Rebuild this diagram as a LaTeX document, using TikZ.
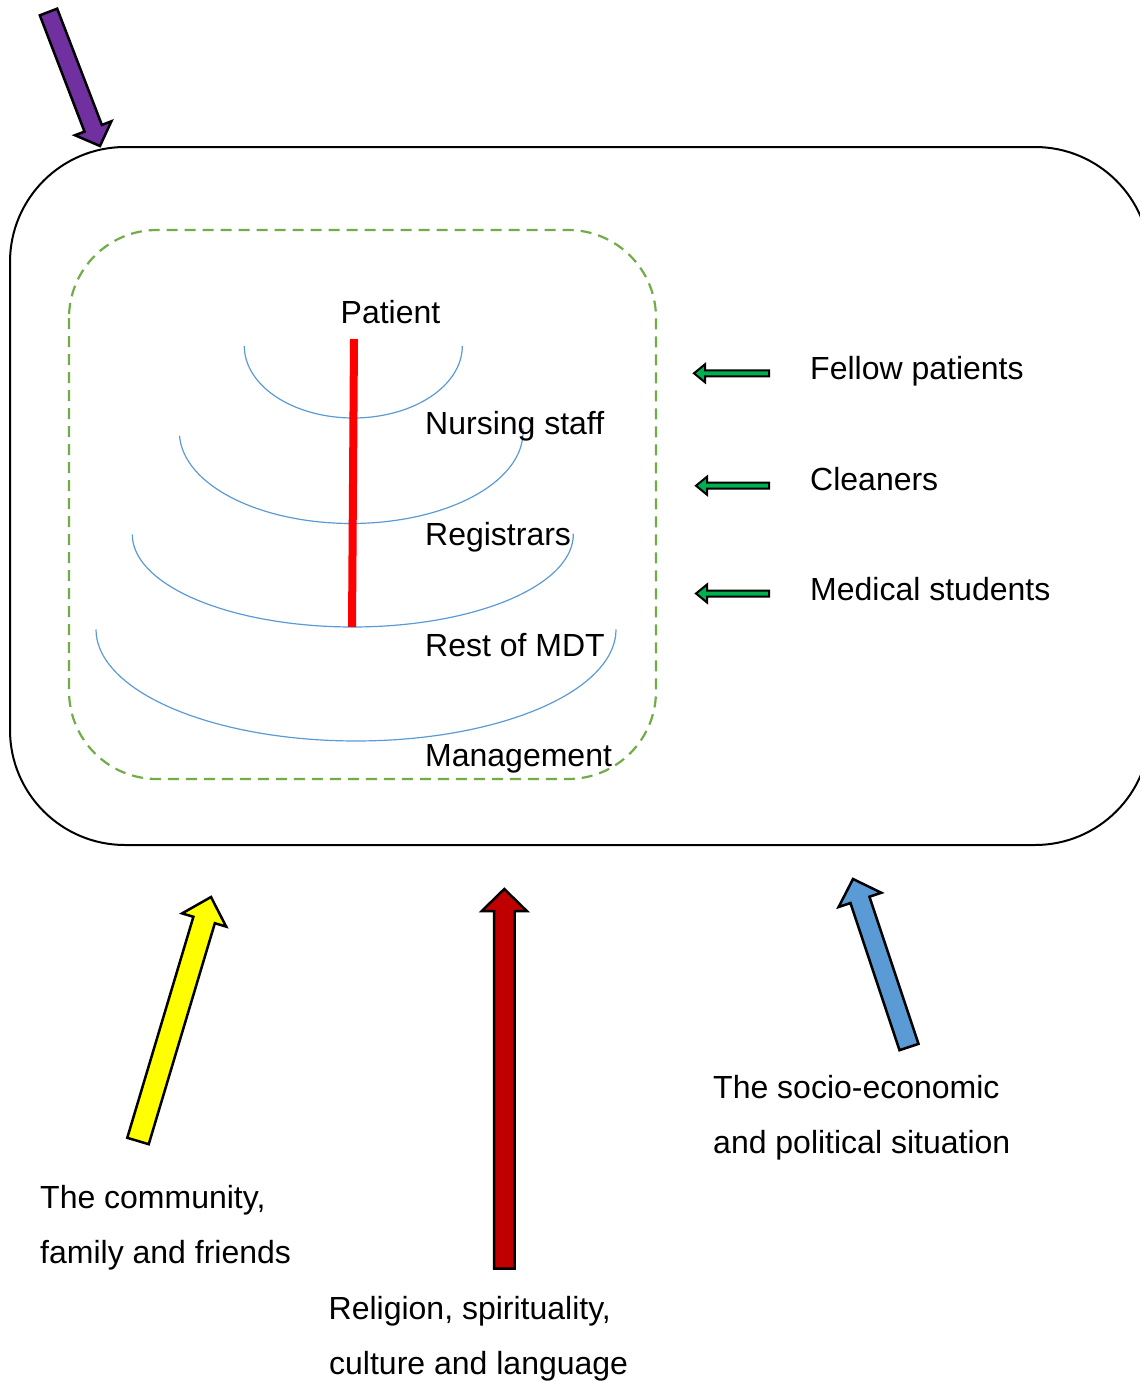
\documentclass[tikz,border=0pt]{standalone}
\usepackage{fontspec}
\setmainfont{Liberation Sans}
\usetikzlibrary{calc}

\definecolor{purplefill}{HTML}{7030A0}
\definecolor{yellowfill}{HTML}{FFFF00}
\definecolor{redfill}{HTML}{C00000}
\definecolor{bluefill}{HTML}{5B9BD5}
\definecolor{greenfill}{HTML}{00B050}
\definecolor{dashgreen}{HTML}{70AD47}
\definecolor{ringblue}{HTML}{5B9BD5}

% Block arrow from a named tail coordinate to a named tip coordinate.
% #1 style, #2 tail, #3 tip, #4 half shaft width, #5 half head width, #6 head length
\newcommand{\blockarrow}[6]{%
  \coordinate (#2-base) at ($(#3)!#6!(#2)$);
  \draw[#1]
    ($(#2)!#4!90:(#3)$) --
    ($(#2-base)!#4!90:(#3)$) --
    ($(#2-base)!#5!90:(#3)$) --
    (#3) --
    ($(#2-base)!#5!-90:(#3)$) --
    ($(#2-base)!#4!-90:(#3)$) --
    ($(#2)!#4!-90:(#3)$) -- cycle;
}

\tikzset{
  label/.style={anchor=base west, inner sep=0pt, font=\fontsize{32}{38}\selectfont},
  bigarrow/.style={draw=black, line width=2.5pt, line join=miter, miter limit=10, fill=#1},
  smallarrow/.style={draw=black, line width=2pt, line join=miter, miter limit=10, fill=greenfill},
  ring/.style={draw=ringblue, line width=1.2pt},
}

\begin{document}
\begin{tikzpicture}[x=1pt, y=-1pt]
\useasboundingbox (0,0) rectangle (1140,1381);
\clip (0,0) rectangle (1140,1381);
\fill[white] (0,0) rectangle (1140,1381);

% outer environment
\draw[line width=2pt, rounded corners=115pt] (10,147) rectangle (1150,845);

% ward boundary
\draw[dashgreen, line width=2.2pt, dash pattern=on 11pt off 7pt, rounded corners=88pt]
  (69,230) rectangle (656,779);

% hierarchy rings
\draw[ring] plot[domain=0:180, samples=80] ({353.3+109*cos(\x)}, {346+72*sin(\x)});
\draw[ring] plot[domain=-2.5:177.7, samples=80] ({351.2+171.8*cos(\x)}, {432+91.5*sin(\x)});
\draw[ring] plot[domain=-0.5:180, samples=80] ({352.8+220.5*cos(\x)}, {534.5+92.5*sin(\x)});
\draw[ring] plot[domain=0:180, samples=80] ({356+260*cos(\x)}, {629.5+111.5*sin(\x)});

% central axis
\coordinate (axtop) at (354,339);
\coordinate (axbot) at (352,627);
\draw[red, line width=8pt] (axtop) -- (axbot);

% hierarchy labels
\node[label] (patient) at (340.5,323) {Patient};
\node[label] (nursing) at (425,434) {Nursing staff};
\node[label] (registrars) at (425,545) {Registrars};
\node[label] (mdt) at (425,656) {Rest of MDT};
\node[label] (management) at (425,766) {Management};

% other people on the ward
\coordinate (g1tail) at (769,373.3);  \coordinate (g1tip) at (694,373.3);
\coordinate (g2tail) at (769,485.7);  \coordinate (g2tip) at (696,485.7);
\coordinate (g3tail) at (769,593.5);  \coordinate (g3tip) at (696,593.5);
\blockarrow{smallarrow}{g1tail}{g1tip}{3pt}{9pt}{11pt}
\blockarrow{smallarrow}{g2tail}{g2tip}{3pt}{9pt}{11pt}
\blockarrow{smallarrow}{g3tail}{g3tip}{3pt}{9pt}{11pt}
\node[label] (fellow) at (810,379) {Fellow patients};
\node[label] (cleaners) at (810,490) {Cleaners};
\node[label] (students) at (810,600) {Medical students};

% outside influences
\coordinate (ptail) at (48.5,12);    \coordinate (ptip) at (100,146);
\blockarrow{bigarrow=purplefill}{ptail}{ptip}{9.3pt}{19.5pt}{19pt}

\coordinate (ytail) at (138,1141);   \coordinate (ytip) at (211,897);
\blockarrow{bigarrow=yellowfill}{ytail}{ytip}{11.2pt}{23pt}{24pt}

\coordinate (rtail) at (504.3,1268.5); \coordinate (rtip) at (504.3,889);
\blockarrow{bigarrow=redfill}{rtail}{rtip}{10.3pt}{22.5pt}{22pt}

\coordinate (btail) at (909,1047);   \coordinate (btip) at (853,879);
\blockarrow{bigarrow=bluefill}{btail}{btip}{10pt}{22.5pt}{22pt}

\node[label] (socio1) at (713,1098) {The socio-economic};
\node[label] (socio2) at (713,1153) {and political situation};
\node[label] (comm1) at (40,1208) {The community,};
\node[label] (comm2) at (40,1263) {family and friends};
\node[label] (rel1) at (328.5,1319) {Religion, spirituality,};
\node[label] (rel2) at (329,1374) {culture and language};
\end{tikzpicture}
\end{document}
